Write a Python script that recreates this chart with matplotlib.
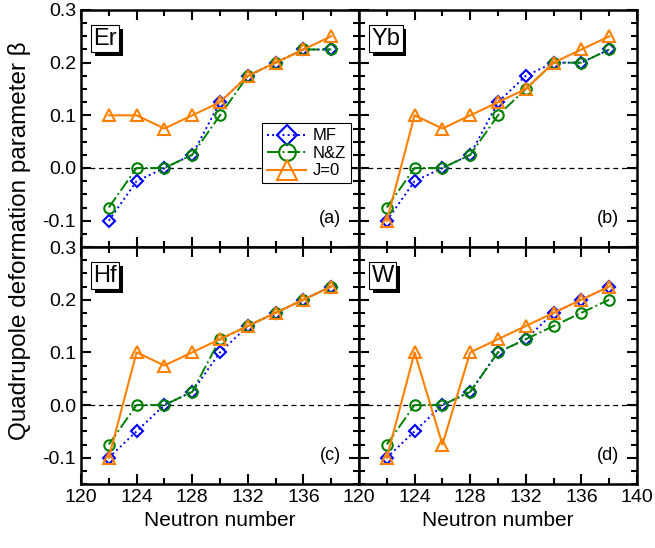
import matplotlib
matplotlib.use("Agg")
import matplotlib.pyplot as plt
from matplotlib.ticker import MultipleLocator, FormatStrFormatter
import matplotlib.patheffects as pe

plt.rcParams['font.family'] = ['Liberation Sans', 'DejaVu Sans']

N = [122, 124, 126, 128, 130, 132, 134, 136, 138]

er_mf = [-0.1, -0.025, 0.0, 0.025, 0.125, 0.175, 0.2, 0.225, 0.225]
er_nz = [-0.075, 0.0, 0.0, 0.025, 0.1, 0.175, 0.2, 0.225, 0.225]
er_j0 = [0.1, 0.1, 0.075, 0.1, 0.125, 0.175, 0.2, 0.225, 0.25]

yb_mf = [-0.1, -0.025, 0.0, 0.025, 0.125, 0.175, 0.2, 0.2, 0.225]
yb_nz = [-0.075, 0.0, 0.0, 0.025, 0.1, 0.15, 0.2, 0.2, 0.225]
yb_j0 = [-0.1, 0.1, 0.075, 0.1, 0.125, 0.15, 0.2, 0.225, 0.25]

hf_mf = [-0.1, -0.05, 0.0, 0.025, 0.1, 0.15, 0.175, 0.2, 0.225]
hf_nz = [-0.075, 0.0, 0.0, 0.025, 0.125, 0.15, 0.175, 0.2, 0.225]
hf_j0 = [-0.1, 0.1, 0.075, 0.1, 0.125, 0.15, 0.175, 0.2, 0.225]

w_mf = [-0.1, -0.05, 0.0, 0.025, 0.1, 0.125, 0.175, 0.2, 0.225]
w_nz = [-0.075, 0.0, 0.0, 0.025, 0.1, 0.125, 0.15, 0.175, 0.2]
w_j0 = [-0.1, 0.1, -0.075, 0.1, 0.125, 0.15, 0.175, 0.2, 0.225]

elements = ["Er", "Yb", "Hf", "W"]
panel_tags = ["(a)", "(b)", "(c)", "(d)"]
series_names = ["MF", "N&Z", "J=0"]
panels = [(er_mf, er_nz, er_j0), (yb_mf, yb_nz, yb_j0),
          (hf_mf, hf_nz, hf_j0), (w_mf, w_nz, w_j0)]

blue = "#0000FF"
green = "#008000"
orange = "#FF8000"

fig = plt.figure(figsize=(6.55, 5.48), dpi=100)
L = 81 / 655
W = 278 / 655
H = 237 / 548
B0 = 1 - 484 / 548
B1 = 1 - 247 / 548
pos = [(L, B1), (L + W, B1), (L, B0), (L + W, B0)]

axes = []
for i, (p, data) in enumerate(zip(pos, panels)):
    ax = fig.add_axes([p[0], p[1], W, H])
    axes.append(ax)
    mf, nz, j0 = data
    ax.axhline(0, color='black', ls=(0, (4, 3)), lw=0.9, zorder=1)
    ax.plot(N, mf, ls=':', color=blue, lw=1.4, marker='D', ms=6.5,
            mfc='none', mec=blue, mew=1.5, label=series_names[0], zorder=3)
    ax.plot(N, nz, ls='-.', color=green, lw=1.4, marker='o', ms=7.5,
            mfc='none', mec=green, mew=1.5, label=series_names[1], zorder=4)
    ax.plot(N, j0, ls='-', color=orange, lw=1.5, marker='^', ms=9,
            mfc='none', mec=orange, mew=1.5, label=series_names[2], zorder=5)
    ax.set_xlim(120, 140)
    ax.set_ylim(-0.15, 0.3)
    ax.xaxis.set_major_locator(MultipleLocator(4))
    ax.xaxis.set_minor_locator(MultipleLocator(2))
    ax.yaxis.set_major_locator(MultipleLocator(0.1))
    ax.yaxis.set_minor_locator(MultipleLocator(0.025))
    ax.tick_params(which='both', direction='in', top=True, right=True,
                   labelsize=14, width=1.5)
    ax.tick_params(which='major', length=7)
    ax.tick_params(which='minor', length=4)
    for s in ax.spines.values():
        s.set_linewidth(1.8)
    ax.yaxis.set_major_formatter(FormatStrFormatter('%.1f'))
    if i in (1, 3):
        ax.tick_params(labelleft=False)
    if i in (0, 1):
        ax.tick_params(labelbottom=False)
    if i == 2:
        ax.set_xticks([120, 124, 128, 132, 136, 140],
                      labels=['120', '124', '128', '132', '136', ''])
    if i >= 2:
        ax.set_xlabel("Neutron number", fontsize=15, labelpad=4)
    if i in (0, 2):
        ax.set_yticks([-0.1, 0.0, 0.1, 0.2, 0.3])
    t = ax.text(0.045, 0.925, elements[i], transform=ax.transAxes, fontsize=17,
                ha='left', va='top', zorder=10,
                bbox=dict(boxstyle='square,pad=0.1', fc='white', ec='black', lw=0.8))
    t.get_bbox_patch().set_path_effects([
        pe.withSimplePatchShadow(offset=(2.5, -2.5), shadow_rgbFace='black', alpha=1.0)])
    ax.text(0.935, 0.12, panel_tags[i], transform=ax.transAxes, fontsize=13,
            ha='right', va='center')

leg = axes[0].legend(loc='center right', bbox_to_anchor=(0.97, 0.395),
                     fontsize=12, markerscale=1.6, frameon=True, fancybox=False,
                     edgecolor='black', framealpha=1, handlelength=2.3,
                     borderpad=0.3, labelspacing=0.15, handletextpad=0.4,
                     borderaxespad=0)
leg.get_frame().set_linewidth(0.8)

fig.text(0.03, 0.56, "Quadrupole deformation parameter β", rotation=90,
         fontsize=17.5, ha='center', va='center')

fig.savefig("out.png", dpi=100)
